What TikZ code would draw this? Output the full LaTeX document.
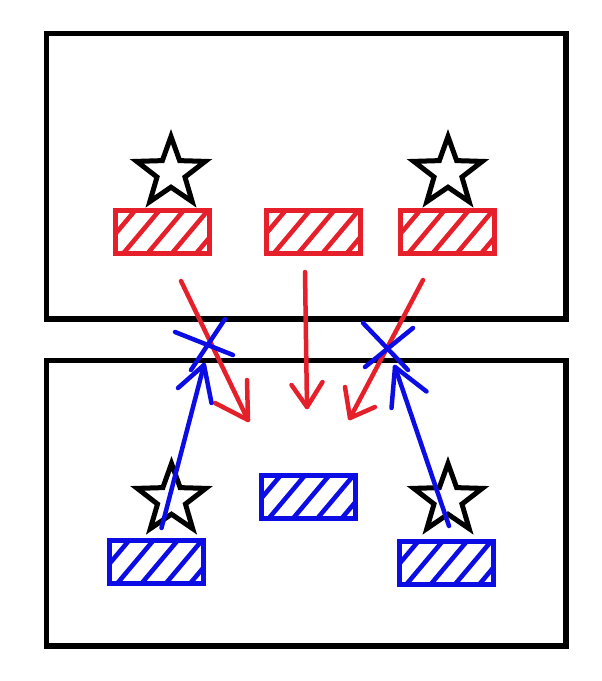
\documentclass[tikz,border=0pt]{standalone}
\usetikzlibrary{shapes.geometric,calc}
\definecolor{myred}{RGB}{230,32,42}
\definecolor{myblue}{RGB}{12,12,228}
\begin{document}
\begin{tikzpicture}[x=1pt,y=-1pt,
  panel/.style={draw=black,line width=5.5pt,rectangle,inner sep=0pt,minimum width=519.5pt,minimum height=285.5pt},
  starshape/.style={draw=black,line width=5pt,star,star points=5,star point ratio=2.45,minimum size=72pt,inner sep=0pt,line join=miter},
  hatchbox/.style={draw=#1,line width=5pt,rectangle,inner sep=0pt,minimum width=94pt,minimum height=43pt,
    path picture={\foreach \k in {0,...,4}{\draw[#1,line width=4.6pt] ([xshift=19.5pt+\k*24.3pt]path picture bounding box.north west) -- ++(-84pt,-100pt);}}},
  redline/.style={myred,line width=4.5pt,line cap=round,line join=round},
  blueline/.style={myblue,line width=4.5pt,line cap=round,line join=round}]
\useasboundingbox (0,0) rectangle (602,681);
% panels
\node[panel] (topbox) at (306.25,176.25) {};
\node[panel] (botbox) at (306.25,503) {};
% stars
\node[starshape] (tl) at (171,172.5) {};
\node[starshape] (tr) at (448,172.5) {};
\node[starshape] (bl) at (171.5,499.5) {};
\node[starshape] (br) at (448,499.5) {};
% hatched boxes
\node[hatchbox=myred] (r1) at (162.5,232) {};
\node[hatchbox=myred] (r2) at (313,232) {};
\node[hatchbox=myred] (r3) at (447.5,232) {};
\node[hatchbox=myblue] (b2) at (308,497) {};
\node[hatchbox=myblue] (b1) at (156.5,562) {};
\node[hatchbox=myblue] (b3) at (446,562.5) {};
% red arrows
\coordinate (ra1s) at (181,281); \coordinate (ra1t) at (248,420);
\coordinate (ra2s) at (305,272); \coordinate (ra2t) at (307,407);
\coordinate (ra3s) at (423,280); \coordinate (ra3t) at (350,418);
\draw[redline] (ra1s) -- (ra1t);
\draw[redline] ($(ra1t)+(-1,-40)$) -- (ra1t) -- ($(ra1t)+(-33,-17)$);
\draw[redline] (ra2s) -- (ra2t);
\draw[redline] ($(ra2t)+(-15.5,-22)$) -- (ra2t) -- ($(ra2t)+(15.5,-25)$);
\draw[redline] (ra3s) -- (ra3t);
\draw[redline] ($(ra3t)+(-5,-31)$) -- (ra3t) -- ($(ra3t)+(25,-11)$);
% blue crosses
\coordinate (c1a) at (175,332); \coordinate (c1b) at (233,355);
\coordinate (c1c) at (225,319); \coordinate (c1d) at (191,370);
\coordinate (c2a) at (363,323); \coordinate (c2b) at (408,370);
\coordinate (c2c) at (413,328); \coordinate (c2d) at (365,367);
\draw[blueline] (c1a) -- (c1b);
\draw[blueline] (c1c) -- (c1d);
\draw[blueline] (c2a) -- (c2b);
\draw[blueline] (c2c) -- (c2d);
% blue arrows
\coordinate (ba1s) at (161.5,528); \coordinate (ba1t) at (204,365);
\coordinate (ba2s) at (449,526); \coordinate (ba2t) at (395,367);
\draw[blueline] (ba1s) -- (ba1t);
\draw[blueline] ($(ba1t)+(-26,23)$) -- (ba1t) -- ($(ba1t)+(7.5,38)$);
\draw[blueline] (ba2s) -- (ba2t);
\draw[blueline] ($(ba2t)+(31.5,24.5)$) -- (ba2t) -- ($(ba2t)+(-3.5,41)$);
\end{tikzpicture}
\end{document}
